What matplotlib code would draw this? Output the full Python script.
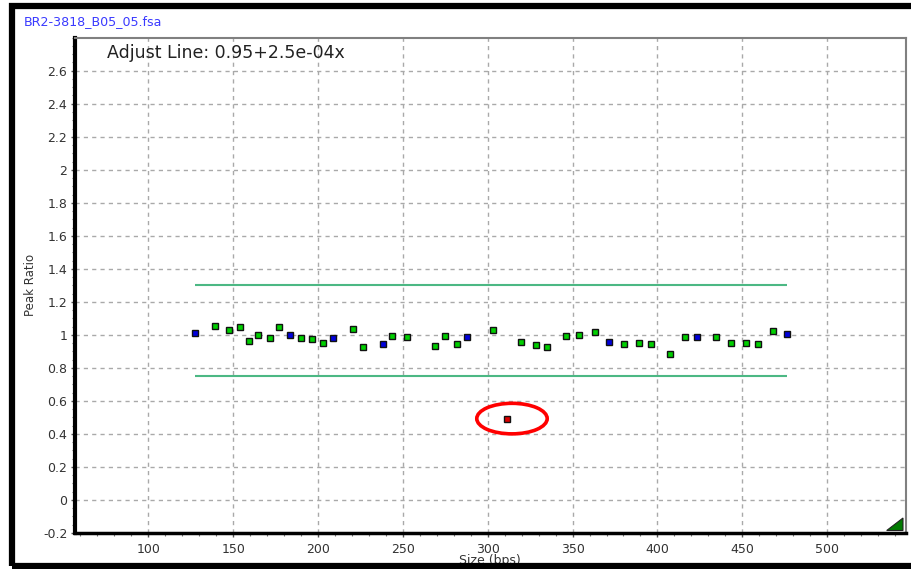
import matplotlib
matplotlib.use("Agg")
import matplotlib.pyplot as plt
from matplotlib.patches import Ellipse, Polygon, Rectangle
from matplotlib.ticker import MultipleLocator

plt.rcParams['font.family'] = ['DejaVu Sans']

# Peak sizes (bps) and their peak-height ratios
sizes = [127.5, 139.3, 147.7, 154.0, 159.3, 164.8, 171.7, 177.2, 183.5, 189.8,
         196.3, 202.8, 209.0, 220.4, 226.7, 238.5, 243.6, 252.3, 268.9, 274.8,
         281.7, 288.0, 302.9, 319.4, 328.5, 335.1, 346.0, 353.6, 363.4, 371.5,
         380.5, 389.2, 396.0, 407.5, 416.5, 423.5, 434.5, 443.2, 452.2, 459.5,
         468.3, 476.4]
ratios = [1.010, 1.052, 1.030, 1.045, 0.960, 1.002, 0.982, 1.045, 1.002, 0.982,
          0.974, 0.952, 0.982, 1.036, 0.924, 0.946, 0.994, 0.988, 0.934, 0.994,
          0.946, 0.988, 1.030, 0.958, 0.940, 0.924, 0.994, 1.000, 1.016, 0.958,
          0.946, 0.952, 0.946, 0.882, 0.988, 0.988, 0.988, 0.952, 0.952, 0.946,
          1.024, 1.008]
# 'b' = reference peak, 'g' = sample peak
kinds = ['b', 'g', 'g', 'g', 'g', 'g', 'g', 'g', 'b', 'g',
         'g', 'g', 'b', 'g', 'g', 'b', 'g', 'g', 'g', 'g',
         'g', 'b', 'g', 'g', 'g', 'g', 'g', 'g', 'g', 'b',
         'g', 'g', 'g', 'g', 'g', 'b', 'g', 'g', 'g', 'g',
         'g', 'b']

# Peak outside the tolerance band
outlier_size = 311.2
outlier_ratio = 0.488

# Tolerance band limits
upper_limit = 1.30
lower_limit = 0.75

file_name = "BR2-3818_B05_05.fsa"
adjust_text = "Adjust Line: 0.95+2.5e-04x"

W, H = 911, 569
fig = plt.figure(figsize=(W / 100, H / 100), dpi=100)
fig.patch.set_facecolor('white')

ax = fig.add_axes([75 / W, 1 - 533 / H, (905.7 - 75) / W, (533 - 37.7) / H])
ax.set_xlim(56.8, 546.3)
ax.set_ylim(-0.2, 2.8)

ax.xaxis.set_minor_locator(MultipleLocator(10))
ax.yaxis.set_minor_locator(MultipleLocator(0.05))

ax.set_xticks([100, 150, 200, 250, 300, 350, 400, 450, 500])
ax.set_yticks([-0.2, 0, 0.2, 0.4, 0.6, 0.8, 1, 1.2, 1.4, 1.6, 1.8, 2, 2.2, 2.4, 2.6])
ax.set_yticklabels(['-0.2', '0', '0.2', '0.4', '0.6', '0.8', '1', '1.2', '1.4',
                    '1.6', '1.8', '2', '2.2', '2.4', '2.6'])

ax.tick_params(axis='both', which='major', labelsize=9, length=3, width=1,
               color='#555555', labelcolor='#333333')
ax.tick_params(axis='both', which='minor', length=2, width=0.8, color='#777777')
ax.tick_params(axis='x', which='major', pad=4)
ax.tick_params(axis='y', which='major', pad=2.5)

ax.grid(True, which='major', color='#a9a9a9', linestyle=(0, (3, 3)), linewidth=1.0)
ax.set_axisbelow(True)

for side in ('left', 'bottom'):
    ax.spines[side].set_color('black')
ax.spines['left'].set_linewidth(3)
ax.spines['bottom'].set_linewidth(2.5)
for side in ('top', 'right'):
    ax.spines[side].set_color('#808080')
    ax.spines[side].set_linewidth(1.5)

# Tolerance band
ax.hlines([upper_limit, lower_limit], sizes[0], sizes[-1],
          colors='#4cb884', linewidth=1.5, zorder=2)

# Peaks
colour_of = {'b': '#0000dd', 'g': '#00d000'}
for s, r, k in zip(sizes, ratios, kinds):
    ax.plot(s, r, marker='s', markersize=5, markerfacecolor=colour_of[k],
            markeredgecolor='#111111', markeredgewidth=1.0, linestyle='none',
            zorder=4)
ax.plot(outlier_size, outlier_ratio, marker='s', markersize=5,
        markerfacecolor='#dd0000', markeredgecolor='#111111',
        markeredgewidth=1.0, linestyle='none', zorder=4)

# Highlight the outlier
ax.add_patch(Ellipse((outlier_size + 3.1, outlier_ratio + 0.005), 41.5, 0.185,
                     fill=False, edgecolor='#ff0000', linewidth=2.6, zorder=5))

ax.set_ylabel('Peak Ratio', fontsize=8.5, color='#333333', labelpad=4)
ax.set_xlabel('Size (bps)', fontsize=9, color='#333333', labelpad=-1)

ax.text(0.038, 0.988, adjust_text, transform=ax.transAxes, fontsize=12.5,
        color='#222222', ha='left', va='top')

# Corner marker
tri = Polygon([[886.7 / W, 1 - 530.5 / H], [903 / W, 1 - 518 / H], [903 / W, 1 - 530.5 / H]],
              closed=True, transform=fig.transFigure, facecolor='#007a00',
              edgecolor='#222222', linewidth=0.8, zorder=10)
fig.patches.append(tri)

fig.text(24 / W, 1 - 22 / H, file_name, fontsize=9.1, color='#3a3aff',
         ha='left', va='center')

# Outer frame
fig.patches.append(Rectangle((12 / W, 1 - 566 / H), (930 - 12) / W, (566 - 6) / H,
                             transform=fig.transFigure, fill=False,
                             edgecolor='black', linewidth=4.5, zorder=20))

fig.savefig('out.png', dpi=100, facecolor='white')
